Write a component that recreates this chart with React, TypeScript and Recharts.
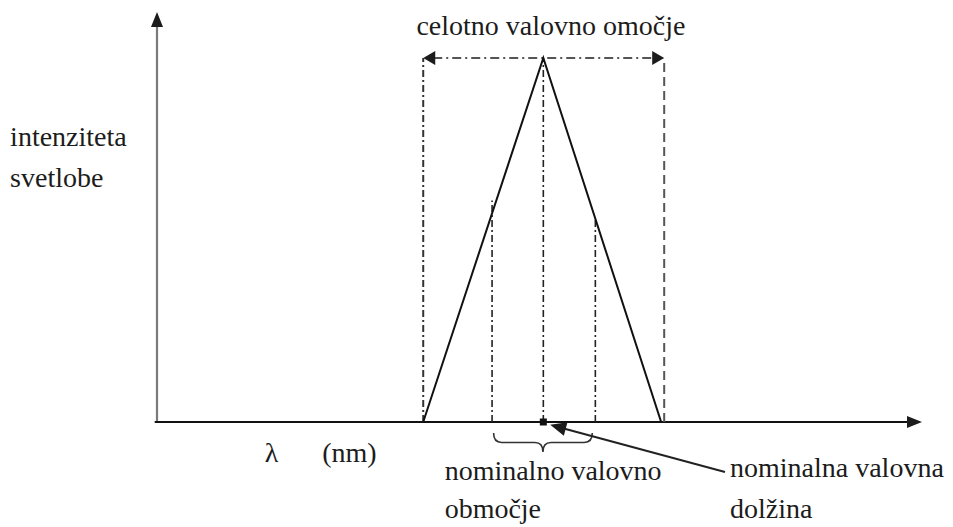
import {
  ComposedChart,
  Line,
  XAxis,
  YAxis,
  ReferenceLine,
  ReferenceDot,
  ReferenceArea,
} from 'recharts';

// emission profile of the source: wavelength (arbitrary units) vs. light intensity
const wavelength = [34.8, 50.5, 65.9];
const intensity = [0, 88.8, 0];

// full band edges, peak position and nominal band
const fullBand = [34.8, 66.3];
const peakWavelength = 50.5;
const peakIntensity = 88.8;
const nominalBand = [43.8, 57.3];
const nominalMarkTops = [54, 50];

const profile = wavelength.map((x, i) => ({ x, y: intensity[i] }));

const INK = '#1c1c1c';

// line with optional arrowheads, used as a ReferenceLine shape
function arrowShape(opts: {
  stroke: string;
  width: number;
  dash?: string;
  start?: boolean;
  end?: boolean;
  len?: number;
  half?: number;
}) {
  const { stroke, width, dash, start, end, len = 14, half = 6 } = opts;
  return (p: any) => {
    const { x1, y1, x2, y2 } = p;
    const a = Math.atan2(y2 - y1, x2 - x1);
    const ux = Math.cos(a);
    const uy = Math.sin(a);
    const head = (tx: number, ty: number, dx: number, dy: number) => {
      const bx = tx - dx * len;
      const by = ty - dy * len;
      return `${tx},${ty} ${bx - dy * half},${by + dx * half} ${bx + dy * half},${by - dx * half}`;
    };
    const sx = start ? x1 + ux * (len - 2) : x1;
    const sy = start ? y1 + uy * (len - 2) : y1;
    const ex = end ? x2 - ux * (len - 2) : x2;
    const ey = end ? y2 - uy * (len - 2) : y2;
    return (
      <g>
        <line x1={sx} y1={sy} x2={ex} y2={ey} stroke={stroke} strokeWidth={width} strokeDasharray={dash} />
        {start && <polygon points={head(x1, y1, -ux, -uy)} fill={INK} />}
        {end && <polygon points={head(x2, y2, ux, uy)} fill={INK} />}
      </g>
    );
  };
}

// caption anchored at its baseline, in data coordinates
function note(key: string, x: number, y: number, text: string, anchor: 'start' | 'middle' = 'start') {
  return (
    <ReferenceDot
      key={key}
      x={x}
      y={y}
      r={0}
      ifOverflow="visible"
      shape={(p: any) => (
        <text x={p.cx} y={p.cy} textAnchor={anchor} fontFamily="Liberation Serif" fontSize={28} fill={INK}>
          {text}
        </text>
      )}
    />
  );
}

// curly brace opening downwards under the nominal band
function braceShape(p: any) {
  const { x, y, width, height } = p;
  const mid = x + width / 2;
  const h2 = height / 2;
  const r = 8;
  const d = [
    `M${x},${y}`,
    `Q${x},${y + h2} ${x + r},${y + h2}`,
    `L${mid - r},${y + h2}`,
    `Q${mid},${y + h2} ${mid},${y + height}`,
    `Q${mid},${y + h2} ${mid + r},${y + h2}`,
    `L${x + width - r},${y + h2}`,
    `Q${x + width},${y + h2} ${x + width},${y}`,
  ].join(' ');
  return <path d={d} fill="none" stroke="#333" strokeWidth={1.6} />;
}

const dashDot = '7 3 2 3';

export default function App() {
  return (
    <div style={{ width: 953, height: 527 }}>
      <style>{'body{margin:0}'}</style>
      <ComposedChart
        width={953}
        height={527}
        data={profile}
        margin={{ top: 12, right: 31, bottom: 105, left: 157 }}
      >
        <XAxis dataKey="x" type="number" domain={[0, 100]} hide />
        <YAxis type="number" domain={[0, 100]} hide />

        {/* axes with arrowheads */}
        <ReferenceLine
          segment={[{ x: 0, y: 0 }, { x: 0, y: 100 }]}
          ifOverflow="visible"
          shape={arrowShape({ stroke: '#7a7a7a', width: 2.2, end: true, len: 15, half: 6 })}
        />
        <ReferenceLine
          segment={[{ x: -0.3, y: 0 }, { x: 100, y: 0 }]}
          ifOverflow="visible"
          shape={arrowShape({ stroke: '#111', width: 2, end: true, len: 15, half: 6 })}
        />

        {/* full band edges */}
        <ReferenceLine
          segment={[{ x: fullBand[0], y: 0 }, { x: fullBand[0], y: peakIntensity }]}
          ifOverflow="visible"
          stroke="#333"
          strokeWidth={2}
          strokeDasharray={dashDot}
        />
        <ReferenceLine
          segment={[{ x: fullBand[1], y: 0 }, { x: fullBand[1], y: peakIntensity }]}
          ifOverflow="visible"
          stroke="#555"
          strokeWidth={2}
          strokeDasharray="9 5"
        />
        <ReferenceLine
          segment={[{ x: fullBand[0], y: peakIntensity }, { x: fullBand[1], y: peakIntensity }]}
          ifOverflow="visible"
          shape={arrowShape({ stroke: '#555', width: 2, dash: '9 4 2 4', start: true, end: true, len: 12, half: 7 })}
        />

        {/* peak and nominal band markers */}
        <ReferenceLine
          segment={[{ x: peakWavelength, y: 0 }, { x: peakWavelength, y: peakIntensity }]}
          ifOverflow="visible"
          stroke="#222"
          strokeWidth={1.6}
          strokeDasharray={dashDot}
        />
        {nominalBand.map((x, i) => (
          <ReferenceLine
            key={`nom-${i}`}
            segment={[{ x, y: 0 }, { x, y: nominalMarkTops[i] }]}
            ifOverflow="visible"
            stroke="#222"
            strokeWidth={1.6}
            strokeDasharray={dashDot}
          />
        ))}

        <Line
          dataKey="y"
          type="linear"
          stroke="#111"
          strokeWidth={2}
          dot={false}
          isAnimationActive={false}
        />

        <ReferenceDot
          x={peakWavelength}
          y={0}
          r={0}
          ifOverflow="visible"
          shape={(p: any) => <rect x={p.cx - 3.5} y={p.cy - 3.5} width={7} height={7} fill="#111" />}
        />

        <ReferenceArea
          x1={nominalBand[0] + 0.2}
          x2={nominalBand[1] - 0.4}
          y1={-2.7}
          y2={-7.3}
          ifOverflow="visible"
          shape={braceShape}
        />

        {/* pointer to the nominal wavelength */}
        <ReferenceLine
          segment={[{ x: 74.25, y: -12.2 }, { x: 51.4, y: -0.7 }]}
          ifOverflow="visible"
          shape={arrowShape({ stroke: '#222', width: 2, end: true, len: 16, half: 7 })}
        />

        {note('t1', 51.5, 94.4, 'celotno valovno omočje', 'middle')}
        {note('y1', -19.2, 67.3, 'intenziteta')}
        {note('y2', -19.2, 57.3, 'svetlobe')}
        {note('l1', 14.1, -9.8, 'λ')}
        {note('l2', 21.6, -9.8, '(nm)')}
        {note('n1', 37.6, -14.1, 'nominalno valovno')}
        {note('n2', 37.6, -23.4, 'območje')}
        {note('w1', 74.9, -13.4, 'nominalna valovna')}
        {note('w2', 74.9, -23.4, 'dolžina')}
      </ComposedChart>
    </div>
  );
}
